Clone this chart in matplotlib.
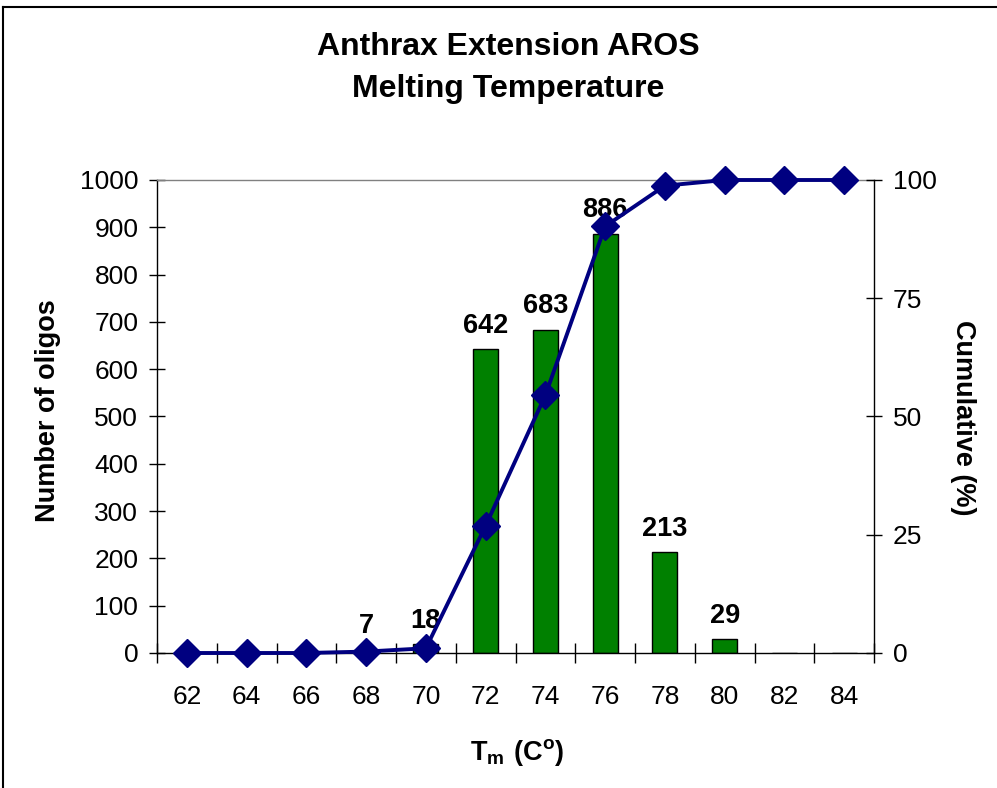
import matplotlib
matplotlib.use("Agg")
import matplotlib.pyplot as plt
from matplotlib.lines import Line2D
import numpy as np

plt.rcParams['font.family'] = ['Liberation Sans', 'DejaVu Sans']
plt.rcParams['mathtext.fontset'] = 'custom'
plt.rcParams['mathtext.rm'] = 'Liberation Sans'
plt.rcParams['mathtext.bf'] = 'Liberation Sans:bold'

# ---- data ----
temps = ["62", "64", "66", "68", "70", "72", "74", "76", "78", "80", "82", "84"]
counts = [0, 0, 0, 7, 18, 642, 683, 886, 213, 29, 0, 0]
cumulative = [0, 0, 0, 0.3, 1.0, 26.9, 54.5, 90.2, 98.8, 100, 100, 100]
left_ticks = [0, 100, 200, 300, 400, 500, 600, 700, 800, 900, 1000]
right_ticks = [0, 25, 50, 75, 100]

W, H = 997, 788
fig = plt.figure(figsize=(W / 100, H / 100), dpi=100)

L, R, T, B = 157, 874, 180, 653
ax = fig.add_axes([L / W, 1 - B / H, (R - L) / W, (B - T) / H])
x = np.arange(len(temps))

ax.bar(x, counts, width=0.42, color='#008000', edgecolor='black', linewidth=1.0, zorder=2)
for xi, c in zip(x, counts):
    if c > 0:
        ax.annotate(str(c), (xi, c), xytext=(0, 12), textcoords='offset points',
                    ha='center', va='baseline', fontsize=19.5, fontweight='bold')

ax.set_xlim(-0.5, len(temps) - 0.5)
ax.set_ylim(0, 1000)
ax.set_yticks(left_ticks)
ax.tick_params(axis='y', direction='inout', length=11, width=1, labelsize=19, pad=8)
# category boundary ticks (major, unlabeled) and labels at centres (minor)
ax.set_xticks(np.arange(-0.5, len(temps), 1.0))
ax.set_xticklabels([])
ax.set_xticks(x, minor=True)
ax.set_xticklabels(temps, minor=True)
ax.tick_params(axis='x', which='major', direction='inout', length=14, width=1)
ax.tick_params(axis='x', which='minor', length=0, labelsize=19, pad=23)

for s in ['left', 'bottom']:
    ax.spines[s].set_linewidth(1.0)
ax.spines['top'].set_color('#808080')
ax.spines['top'].set_linewidth(1.0)
ax.spines['right'].set_visible(False)

ax2 = ax.twinx()
ax2.plot(x, cumulative, color='#000080', linewidth=2.8, marker='D', markersize=14,
         markerfacecolor='#000080', markeredgecolor='#000080', clip_on=False, zorder=3)
ax2.set_ylim(0, 100)
ax2.set_yticks(right_ticks)
ax2.tick_params(axis='y', direction='inout', length=11, width=1, labelsize=19, pad=8)
ax2.spines['right'].set_linewidth(1.0)
ax2.spines['top'].set_visible(False)
ax2.spines['left'].set_visible(False)
ax2.spines['bottom'].set_visible(False)

# titles and labels
fig.text(508 / W, 1 - 55 / H, "Anthrax Extension AROS", ha='center', va='baseline',
         fontsize=23, fontweight='bold')
fig.text(508 / W, 1 - 97 / H, "Melting Temperature", ha='center', va='baseline',
         fontsize=23, fontweight='bold')
fig.text(48 / W, 1 - 411 / H, "Number of oligos", rotation=90, ha='center', va='center',
         fontsize=19.5, fontweight='bold')
fig.text(963 / W, 1 - 418 / H, "Cumulative (%)", rotation=270, ha='center', va='center',
         fontsize=19.5, fontweight='bold')
fig.text(517 / W, 1 - 760 / H, r"$\mathbf{T_m\ (C^o)}$", ha='center', va='baseline',
         fontsize=19.5)

# outer frame (top and left edges visible)
fig.add_artist(Line2D([3 / W, 3 / W], [0, 1 - 7 / H], transform=fig.transFigure,
                      color='black', linewidth=1.5))
fig.add_artist(Line2D([3 / W, 1], [1 - 7 / H, 1 - 7 / H], transform=fig.transFigure,
                      color='black', linewidth=1.5))

fig.savefig("out.png", dpi=100)
